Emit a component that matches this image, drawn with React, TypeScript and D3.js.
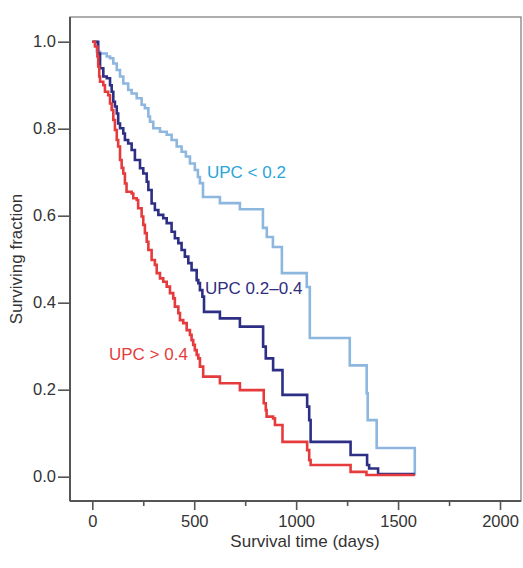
import React, { useRef, useEffect } from "react";
import * as d3 from "d3";

// Kaplan-Meier curves (days, surviving fraction)
const lowTimes = [0, 22, 38, 71, 87, 103, 120, 136, 152, 176, 193, 218, 242, 258, 275, 283, 299, 332, 365, 389, 414, 438, 459, 479, 503, 518, 528, 543, 626, 724, 837, 856, 886, 930, 1052, 1067, 1263, 1346, 1351, 1395, 1582];
const lowSurv = [1.0, 0.977, 0.973, 0.966, 0.962, 0.95, 0.935, 0.92, 0.904, 0.889, 0.881, 0.87, 0.855, 0.847, 0.828, 0.816, 0.801, 0.793, 0.786, 0.774, 0.759, 0.747, 0.736, 0.72, 0.705, 0.689, 0.675, 0.643, 0.629, 0.615, 0.572, 0.551, 0.528, 0.468, 0.436, 0.319, 0.256, 0.192, 0.13, 0.066, 0.003];

const midTimes = [0, 29, 38, 54, 71, 87, 95, 103, 111, 120, 127, 136, 152, 160, 176, 193, 209, 234, 250, 267, 275, 291, 307, 324, 348, 365, 389, 405, 422, 438, 454, 471, 487, 512, 520, 528, 540, 548, 626, 724, 838, 851, 887, 933, 1054, 1064, 1071, 1267, 1348, 1358, 1402, 1582];
const midSurv = [1.0, 0.973, 0.939, 0.92, 0.916, 0.9, 0.885, 0.862, 0.851, 0.835, 0.812, 0.801, 0.789, 0.774, 0.766, 0.751, 0.728, 0.709, 0.697, 0.678, 0.659, 0.628, 0.613, 0.602, 0.594, 0.583, 0.563, 0.548, 0.537, 0.521, 0.506, 0.491, 0.475, 0.452, 0.445, 0.429, 0.414, 0.379, 0.364, 0.345, 0.299, 0.272, 0.245, 0.188, 0.161, 0.13, 0.08, 0.05, 0.027, 0.019, 0.006, 0.006];

const highTimes = [0, 13, 25, 29, 34, 38, 54, 62, 78, 87, 95, 103, 111, 120, 127, 136, 144, 152, 160, 168, 193, 201, 218, 225, 242, 250, 258, 267, 275, 291, 307, 316, 332, 348, 365, 381, 397, 405, 422, 430, 446, 463, 479, 487, 495, 503, 512, 520, 528, 544, 626, 724, 841, 851, 855, 887, 896, 933, 1054, 1064, 1071, 1267, 1345, 1582];
const highSurv = [1.0, 0.989, 0.966, 0.943, 0.92, 0.908, 0.9, 0.885, 0.877, 0.858, 0.843, 0.82, 0.797, 0.774, 0.759, 0.728, 0.71, 0.697, 0.674, 0.655, 0.651, 0.64, 0.636, 0.617, 0.598, 0.579, 0.56, 0.54, 0.521, 0.498, 0.487, 0.468, 0.456, 0.448, 0.437, 0.422, 0.41, 0.391, 0.376, 0.36, 0.353, 0.337, 0.326, 0.314, 0.303, 0.291, 0.28, 0.272, 0.253, 0.23, 0.215, 0.199, 0.169, 0.153, 0.138, 0.134, 0.119, 0.08, 0.061, 0.038, 0.027, 0.011, 0.004, 0.004];

const seriesNames = ["UPC < 0.2", "UPC 0.2\u20130.4", "UPC > 0.4"];
const xTicks = [0, 500, 1000, 1500, 2000];
const xMinorTicks = [250, 750, 1250, 1750];
const yTicks = [0, 0.2, 0.4, 0.6, 0.8, 1.0];

const App = () => {
  const ref = useRef(null);
  const width = 523;
  const height = 568;

  useEffect(() => {
    const svg = d3.select(ref.current);
    svg.selectAll("*").remove();
    const font = "'Liberation Sans', Arial, Helvetica, sans-serif";
    const axisColor = "#555";
    const textColor = "#333";

    const x = d3.scaleLinear().domain([0, 2000]).range([92.3, 500]);
    const y = d3.scaleLinear().domain([0, 1]).range([476.7, 41.7]);

    // frame
    const frame = { left: 70, right: 521, top: 17, bottom: 501 };
    svg.append("rect")
      .attr("x", frame.left)
      .attr("y", frame.top)
      .attr("width", frame.right - frame.left)
      .attr("height", frame.bottom - frame.top)
      .attr("fill", "none")
      .attr("stroke", "#777")
      .attr("stroke-width", 1.2);
    svg.append("line")
      .attr("x1", frame.left).attr("x2", frame.left)
      .attr("y1", frame.top).attr("y2", frame.bottom)
      .attr("stroke", axisColor).attr("stroke-width", 2);
    svg.append("line")
      .attr("x1", frame.left).attr("x2", frame.right)
      .attr("y1", frame.bottom).attr("y2", frame.bottom)
      .attr("stroke", axisColor).attr("stroke-width", 2);

    // y axis
    const yAxis = svg.append("g").attr("transform", `translate(${frame.left},0)`)
      .call(d3.axisLeft(y).tickValues(yTicks).tickFormat(d3.format(".1f")).tickSize(12).tickPadding(2));
    yAxis.select(".domain").remove();
    yAxis.selectAll("line").attr("stroke", axisColor).attr("stroke-width", 1.6);
    yAxis.selectAll("text").attr("fill", textColor).style("font-family", font).style("font-size", "16.5px");

    // x axis
    const xAxis = svg.append("g").attr("transform", `translate(0,${frame.bottom})`)
      .call(d3.axisBottom(x).tickValues(xTicks).tickFormat(d3.format("d")).tickSize(9).tickPadding(5));
    xAxis.select(".domain").remove();
    xAxis.selectAll("line").attr("stroke", axisColor).attr("stroke-width", 1.6);
    xAxis.selectAll("text").attr("fill", textColor).style("font-family", font).style("font-size", "16.5px");
    const xMinor = svg.append("g").attr("transform", `translate(0,${frame.bottom})`)
      .call(d3.axisBottom(x).tickValues(xMinorTicks).tickSize(5).tickFormat(() => ""));
    xMinor.select(".domain").remove();
    xMinor.selectAll("line").attr("stroke", axisColor).attr("stroke-width", 1.6);

    // axis titles
    svg.append("text")
      .attr("x", 305).attr("y", 547)
      .attr("text-anchor", "middle")
      .attr("fill", textColor)
      .style("font-family", font).style("font-size", "17px")
      .text("Survival time (days)");
    svg.append("text")
      .attr("transform", "translate(22,259) rotate(-90)")
      .attr("text-anchor", "middle")
      .attr("fill", textColor)
      .style("font-family", font).style("font-size", "17px")
      .text("Surviving fraction");

    // curves
    const line = d3.line()
      .x((d) => x(d[0]))
      .y((d) => y(d[1]))
      .curve(d3.curveStepAfter);
    const series = [
      { t: lowTimes, s: lowSurv, color: "#8db7df" },
      { t: midTimes, s: midSurv, color: "#2c2f84" },
      { t: highTimes, s: highSurv, color: "#e63b3d" },
    ];
    series.forEach((sr) => {
      svg.append("path")
        .datum(sr.t.map((t, i) => [t, sr.s[i]]))
        .attr("d", line)
        .attr("fill", "none")
        .attr("stroke", sr.color)
        .attr("stroke-width", 2.6)
        .attr("stroke-linejoin", "miter");
    });

    // curve labels
    const labels = [
      { text: seriesNames[0], x: 207, y: 178, color: "#2aa5d8" },
      { text: seriesNames[1], x: 205, y: 294, color: "#2e2d80" },
      { text: seriesNames[2], x: 109, y: 360, color: "#e63b3d" },
    ];
    labels.forEach((l) => {
      svg.append("text")
        .attr("x", l.x).attr("y", l.y)
        .attr("fill", l.color)
        .style("font-family", font).style("font-size", "17px")
        .text(l.text);
    });
  }, []);

  return (
    <div style={{ position: "absolute", left: 0, top: 0 }}>
      <svg ref={ref} width={width} height={height} style={{ display: "block", background: "#fff" }}></svg>
    </div>
  );
};

export default App;
